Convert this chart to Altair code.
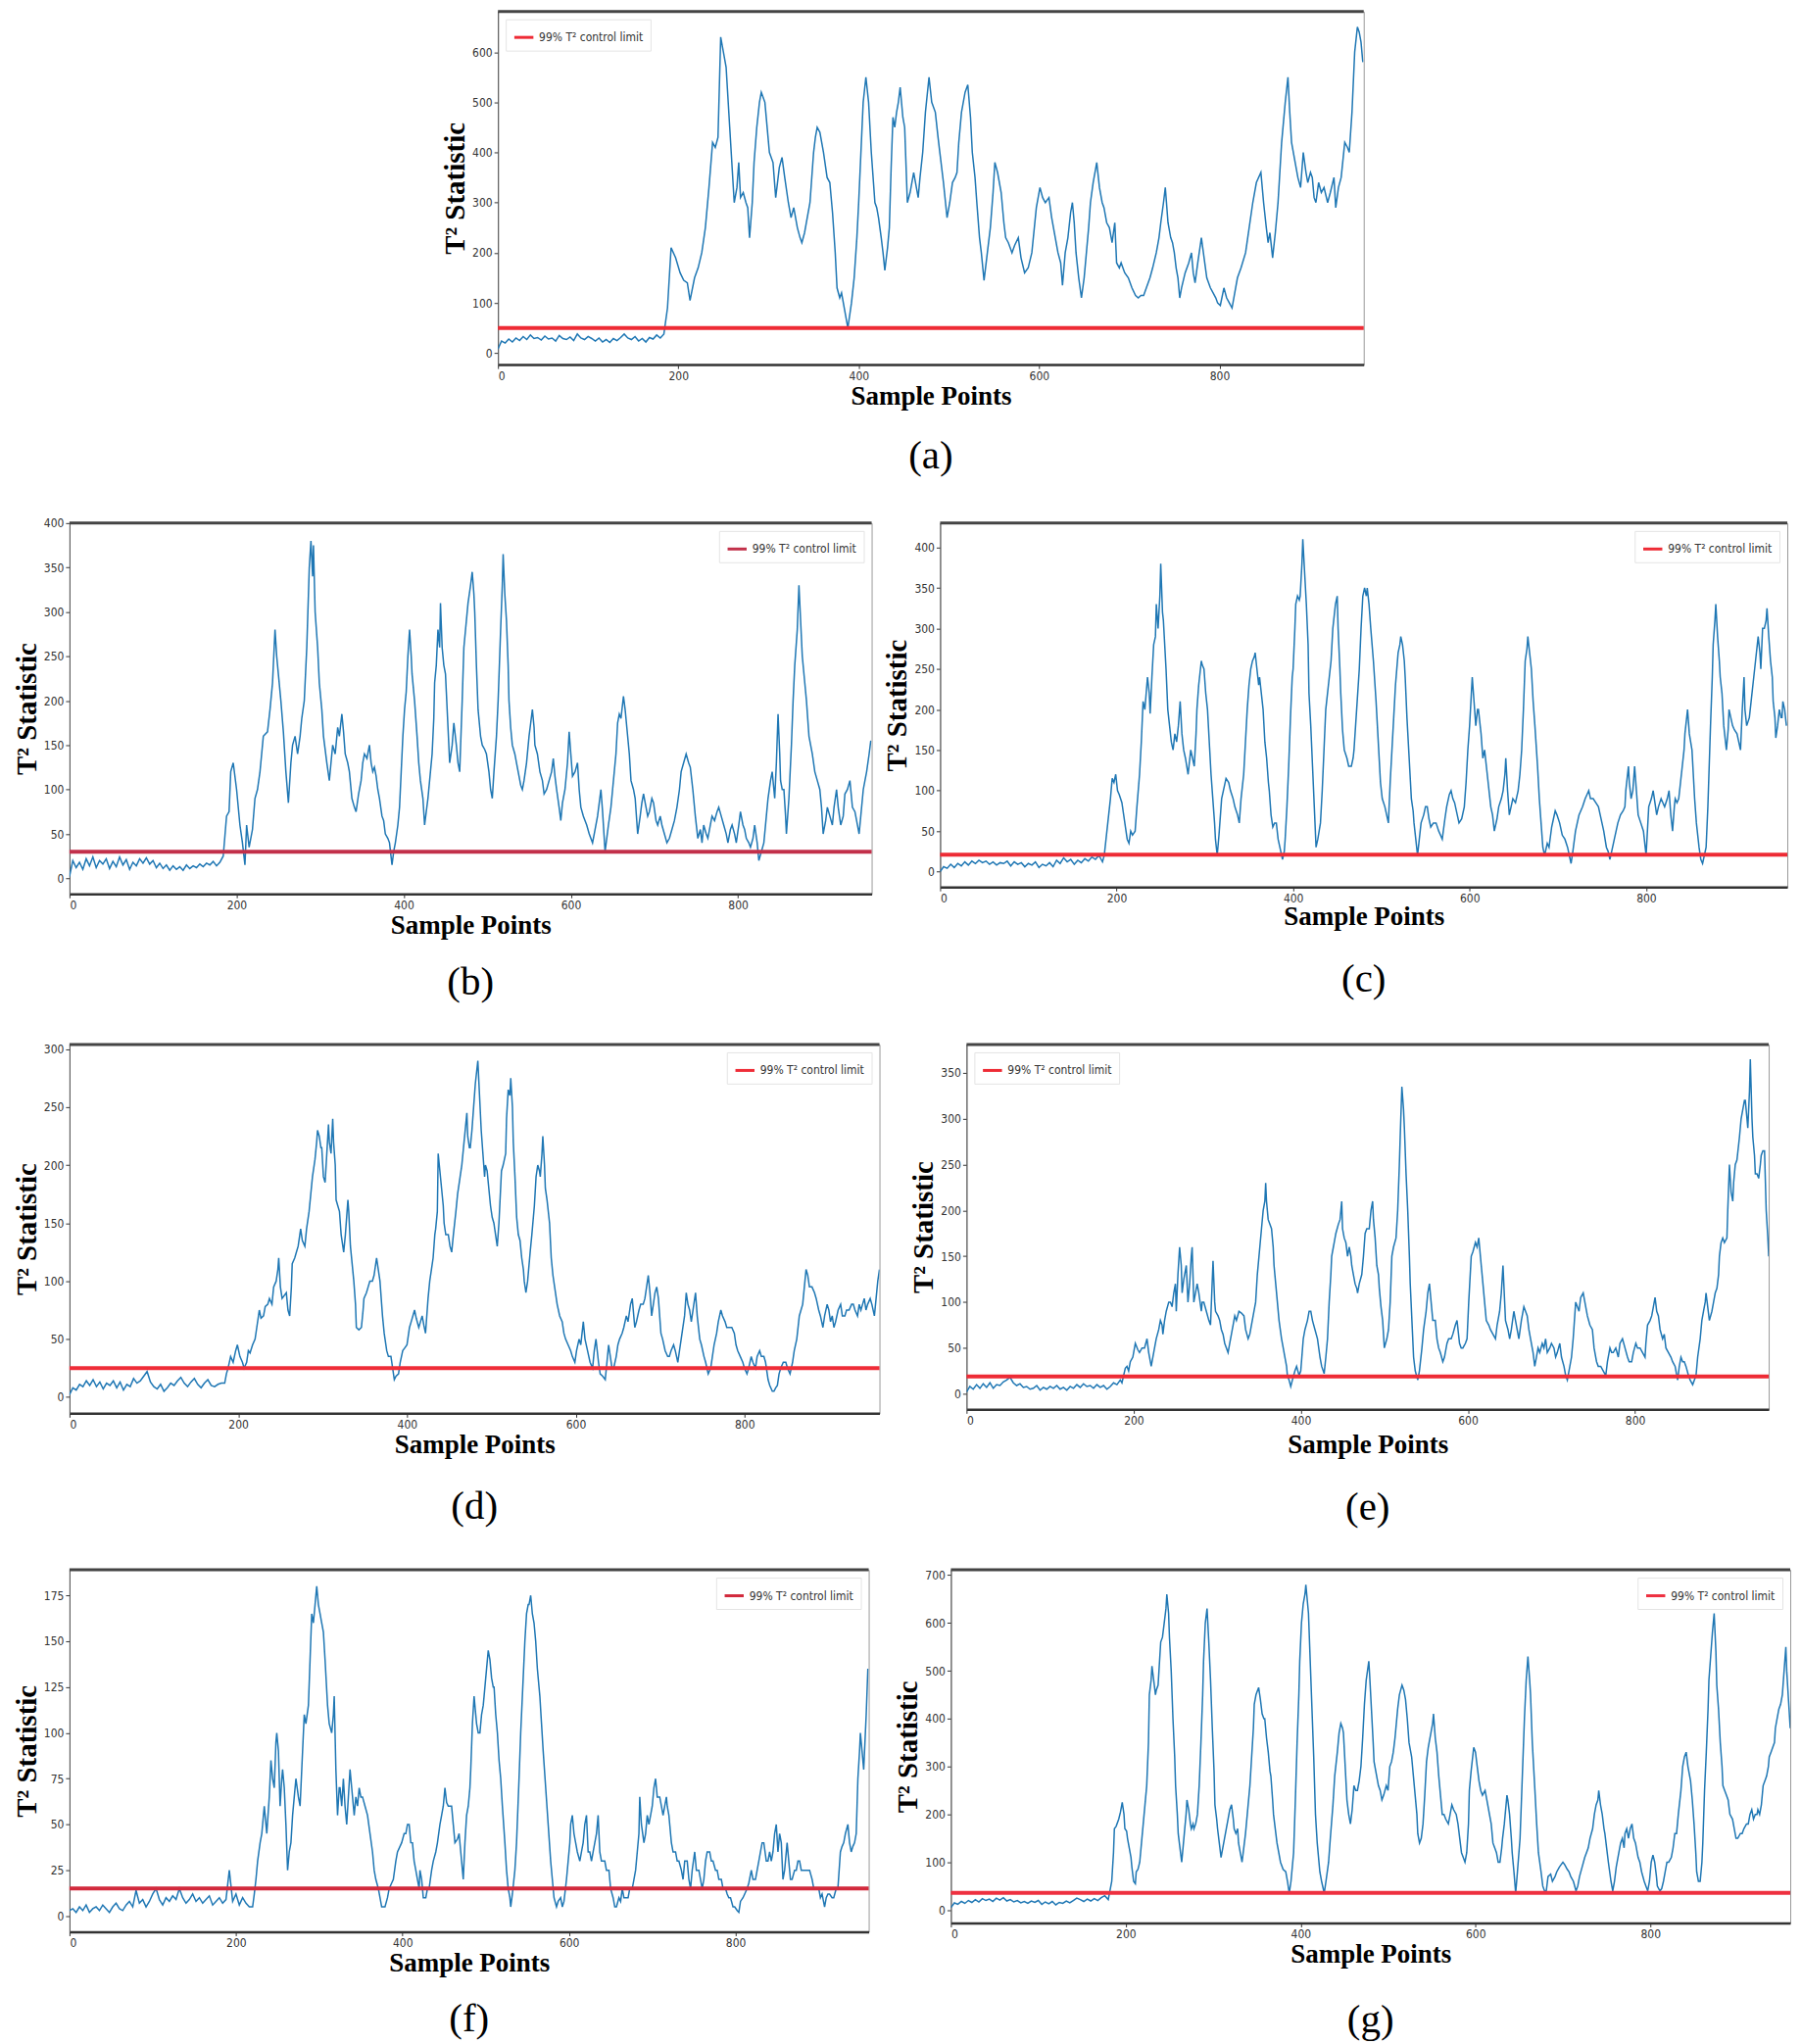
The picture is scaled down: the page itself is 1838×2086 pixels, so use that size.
import altair as alt
import pandas as pd

# ---------------- data ----------------
# pre-fault part: one value every 4 samples starting at sample 0
a_early = [8, 24, 20, 28, 22, 30, 25, 33, 27, 36, 29, 31, 26, 34, 28, 30, 24, 35, 29, 27, 32, 25, 38, 30, 27, 33, 29, 24, 30, 22, 27, 21, 29, 25, 31, 38, 30, 27, 33, 24, 29, 22, 31, 28, 36, 30]
a_fx = [184, 188, 192, 197, 202, 206, 210, 213, 218, 222, 226, 230, 234, 238, 241, 244, 247, 250, 253, 257, 262, 265, 267, 269, 272, 275, 277, 279, 282, 284, 287, 290, 292, 296, 301, 305, 308, 312, 315, 318, 322, 325, 328, 332, 335, 337, 340, 342, 346, 350, 352, 354, 357, 361, 365, 368, 371, 374, 376, 379, 381, 385, 388, 392, 395, 398, 400, 403, 405, 408, 411, 414, 418, 420, 422, 425, 427, 429, 432, 434, 436, 438, 440, 442, 444, 446, 449, 451, 454, 457, 461, 464, 466, 468, 471, 474, 478, 481, 485, 488, 490, 494, 498, 501, 504, 507, 509, 511, 514, 518, 521, 524, 526, 529, 531, 534, 536, 539, 542, 546, 549, 551, 554, 558, 561, 563, 566, 570, 573, 577, 580, 584, 588, 592, 597, 601, 604, 607, 611, 614, 618, 621, 624, 626, 629, 632, 635, 637, 639, 641, 644, 647, 650, 652, 655, 657, 660, 664, 667, 670, 672, 675, 678, 681, 684, 686, 689, 691, 695, 699, 703, 707, 710, 713, 716, 719, 723, 726, 730, 733, 735, 738, 740, 743, 746, 748, 750, 752, 754, 756, 758, 762, 766, 769, 771, 773, 776, 780, 783, 786, 790, 793, 796, 798, 801, 805, 808, 811, 814, 817, 820, 824, 829, 833, 837, 841, 846, 849, 852, 854, 856, 859, 862, 865, 869, 873, 876, 878, 880, 882, 884, 887, 890, 893, 896, 898, 901, 903, 905, 907, 910, 913, 916, 920, 923, 927, 929, 932, 935, 939, 942, 944, 947, 950, 953, 955, 957, 959]
a_fy = [38, 90, 210, 190, 160, 145, 140, 105, 150, 170, 200, 250, 330, 420, 410, 430, 630, 600, 570, 450, 300, 330, 380, 310, 320, 300, 290, 230, 300, 380, 450, 500, 520, 500, 400, 380, 310, 370, 390, 350, 300, 270, 290, 250, 230, 220, 240, 260, 300, 400, 430, 450, 440, 400, 350, 340, 280, 200, 130, 110, 120, 80, 50, 100, 150, 230, 300, 420, 500, 550, 500, 400, 300, 290, 270, 230, 200, 165, 210, 250, 370, 470, 450, 480, 500, 530, 470, 450, 300, 320, 360, 330, 310, 350, 400, 480, 550, 500, 480, 430, 400, 340, 270, 300, 340, 350, 360, 420, 480, 520, 535, 470, 400, 350, 300, 230, 200, 145, 190, 250, 320, 380, 360, 320, 260, 230, 220, 200, 215, 230, 190, 160, 170, 200, 290, 330, 310, 300, 310, 270, 230, 200, 180, 135, 200, 230, 280, 300, 260, 200, 150, 110, 150, 190, 250, 300, 340, 380, 330, 300, 290, 260, 250, 220, 260, 180, 170, 180, 160, 150, 130, 115, 110, 115, 115, 130, 150, 170, 200, 230, 260, 300, 330, 260, 230, 220, 200, 170, 150, 110, 130, 160, 180, 200, 160, 140, 180, 230, 190, 150, 130, 120, 110, 100, 95, 130, 110, 100, 90, 120, 150, 170, 200, 250, 300, 340, 360, 300, 250, 220, 240, 190, 240, 300, 420, 500, 550, 480, 420, 400, 380, 350, 330, 400, 360, 340, 360, 350, 310, 300, 340, 320, 330, 300, 320, 350, 290, 330, 350, 420, 410, 400, 480, 600, 650, 640, 620, 580]

b_early = [2, 20, 12, 18, 10, 22, 14, 24, 12, 20, 16, 22, 11, 19, 13, 24, 15, 21, 10, 18, 14, 22, 17, 23, 16, 20, 12, 17, 11, 15, 9, 14, 10, 13, 9, 15, 11, 14, 12, 16, 13, 17, 15, 19, 14, 18]
b_fx = [184, 188, 191, 193, 196, 200, 204, 207, 210, 212, 215, 219, 222, 225, 228, 232, 237, 240, 243, 246, 248, 250, 253, 256, 259, 262, 265, 267, 270, 273, 276, 278, 281, 284, 287, 289, 291, 292, 294, 297, 299, 302, 304, 308, 311, 313, 315, 318, 321, 323, 326, 328, 330, 333, 335, 338, 341, 343, 346, 349, 351, 353, 356, 359, 361, 363, 365, 367, 369, 371, 374, 376, 378, 381, 383, 386, 388, 390, 393, 395, 397, 399, 401, 403, 405, 407, 409, 410, 413, 416, 418, 420, 423, 425, 427, 429, 432, 434, 436, 437, 439, 441, 443, 444, 446, 448, 450, 451, 453, 455, 458, 460, 463, 465, 467, 470, 472, 475, 477, 480, 482, 484, 485, 487, 489, 492, 494, 497, 499, 502, 504, 506, 508, 511, 513, 516, 518, 519, 521, 523, 525, 526, 528, 530, 533, 535, 538, 540, 542, 544, 547, 550, 552, 554, 556, 557, 560, 563, 566, 568, 571, 574, 577, 579, 581, 583, 586, 588, 590, 593, 596, 598, 600, 602, 605, 608, 610, 612, 615, 619, 622, 626, 629, 632, 634, 636, 638, 641, 643, 645, 648, 650, 652, 654, 656, 658, 660, 663, 665, 667, 670, 672, 675, 677, 680, 683, 685, 687, 690, 692, 694, 697, 699, 702, 704, 707, 709, 712, 715, 718, 721, 724, 727, 730, 732, 735, 738, 741, 743, 746, 749, 752, 755, 757, 759, 762, 764, 767, 769, 772, 775, 777, 780, 783, 786, 788, 791, 793, 796, 798, 801, 803, 806, 808, 810, 813, 815, 818, 820, 823, 825, 828, 831, 834, 836, 839, 841, 843, 844, 846, 848, 850, 851, 853, 855, 857, 858, 861, 864, 866, 868, 871, 873, 875, 877, 880, 882, 885, 887, 889, 892, 895, 898, 900, 902, 905, 907, 910, 913, 915, 918, 920, 923, 926, 928, 931, 934, 936, 937, 940, 941, 943, 945, 947, 950, 952, 954, 957, 959]
b_fy = [25, 70, 75, 120, 130, 100, 60, 40, 15, 60, 35, 55, 90, 100, 120, 160, 165, 190, 220, 280, 250, 230, 200, 165, 120, 85, 130, 150, 160, 140, 160, 180, 200, 260, 350, 380, 340, 375, 300, 260, 220, 190, 160, 130, 110, 130, 150, 140, 170, 160, 185, 165, 140, 130, 120, 90, 80, 75, 95, 110, 130, 140, 135, 150, 130, 120, 125, 115, 100, 90, 70, 65, 50, 45, 40, 15, 30, 40, 60, 80, 120, 160, 190, 210, 250, 280, 250, 230, 200, 160, 130, 110, 90, 60, 75, 90, 120, 140, 180, 220, 240, 280, 260, 310, 260, 240, 230, 210, 170, 130, 150, 175, 150, 130, 120, 200, 260, 290, 310, 330, 345, 320, 300, 240, 190, 160, 150, 145, 140, 120, 100, 90, 120, 160, 200, 280, 330, 365, 320, 290, 240, 200, 170, 150, 140, 130, 115, 105, 100, 110, 130, 160, 175, 190, 170, 150, 140, 120, 110, 95, 100, 110, 120, 135, 115, 100, 80, 65, 85, 100, 130, 165, 140, 115, 120, 130, 100, 80, 70, 60, 50, 40, 55, 70, 85, 100, 75, 30, 45, 60, 80, 100, 120, 140, 175, 185, 180, 205, 190, 170, 140, 110, 100, 90, 50, 70, 85, 95, 80, 70, 75, 90, 85, 65, 60, 70, 60, 50, 40, 45, 55, 65, 80, 100, 120, 130, 140, 130, 125, 100, 70, 45, 55, 40, 60, 50, 45, 60, 70, 65, 75, 80, 70, 60, 50, 40, 55, 60, 50, 40, 60, 75, 60, 55, 45, 40, 35, 45, 60, 40, 20, 30, 40, 70, 90, 110, 120, 100, 90, 130, 185, 140, 110, 100, 100, 70, 50, 90, 150, 200, 240, 280, 330, 290, 250, 220, 200, 160, 150, 140, 120, 110, 100, 80, 50, 65, 80, 70, 60, 80, 100, 80, 60, 70, 95, 100, 110, 90, 80, 75, 70, 60, 50, 70, 100, 110, 120, 140, 155]

c_early = [0, 6, 4, 9, 5, 10, 7, 12, 8, 13, 10, 14, 11, 13, 9, 12, 8, 11, 10, 13, 7, 12, 9, 11, 6, 10, 8, 12, 5, 9, 7, 11, 6, 14, 10, 17, 12, 15, 9, 14, 11, 16, 13, 18, 15, 20]
c_fx = [184, 186, 188, 190, 193, 195, 197, 199, 201, 203, 206, 208, 210, 212, 214, 216, 218, 221, 223, 226, 228, 230, 232, 235, 237, 238, 240, 242, 244, 245, 247, 249, 250, 252, 253, 255, 256, 258, 260, 262, 264, 266, 268, 270, 272, 274, 276, 278, 281, 283, 284, 286, 288, 290, 291, 293, 296, 297, 299, 301, 303, 305, 307, 309, 311, 312, 314, 316, 319, 321, 324, 327, 329, 332, 334, 337, 339, 341, 344, 346, 348, 350, 352, 354, 356, 357, 359, 361, 362, 364, 366, 368, 370, 372, 373, 375, 377, 379, 381, 383, 385, 388, 390, 391, 393, 395, 397, 399, 400, 402, 403, 405, 407, 408, 410, 411, 413, 415, 417, 418, 420, 422, 424, 426, 428, 431, 433, 435, 437, 440, 441, 443, 445, 446, 448, 450, 451, 453, 454, 456, 458, 461, 463, 466, 468, 469, 472, 475, 477, 479, 481, 483, 484, 486, 488, 491, 494, 496, 499, 501, 504, 506, 508, 510, 512, 514, 516, 519, 521, 522, 524, 526, 527, 529, 531, 533, 534, 536, 537, 539, 541, 543, 545, 548, 550, 552, 554, 556, 559, 562, 565, 567, 569, 572, 574, 577, 579, 581, 583, 586, 588, 591, 594, 596, 598, 600, 603, 605, 607, 609, 610, 613, 615, 617, 619, 621, 624, 626, 628, 631, 633, 636, 638, 640, 641, 643, 645, 647, 649, 652, 655, 657, 659, 661, 663, 665, 666, 668, 670, 672, 674, 677, 679, 681, 683, 685, 688, 690, 693, 695, 697, 699, 702, 704, 705, 708, 711, 713, 715, 717, 720, 722, 724, 726, 728, 731, 733, 735, 737, 740, 743, 746, 748, 750, 752, 755, 757, 759, 761, 764, 766, 768, 771, 774, 776, 777, 780, 781, 783, 785, 787, 789, 791, 794, 797, 799, 800, 802, 803, 806, 808, 810, 812, 814, 817, 819, 821, 824, 826, 828, 830, 832, 833, 835, 837, 839, 841, 843, 844, 846, 847, 849, 852, 854, 855, 857, 860, 862, 864, 866, 868, 870, 873, 875, 876, 878, 879, 881, 883, 884, 886, 888, 891, 893, 894, 896, 898, 900, 903, 905, 907, 909, 911, 912, 914, 917, 919, 921, 924, 926, 927, 929, 930, 932, 934, 936, 937, 939, 941, 943, 944, 946, 947, 949, 951, 953, 954, 955, 957, 959]
c_fy = [12, 20, 40, 60, 90, 115, 110, 120, 100, 95, 85, 70, 55, 40, 35, 50, 45, 50, 80, 120, 160, 210, 200, 240, 220, 195, 240, 280, 290, 330, 300, 340, 380, 320, 310, 270, 250, 200, 180, 160, 150, 170, 160, 180, 210, 170, 150, 140, 120, 140, 150, 140, 130, 170, 200, 230, 260, 255, 250, 220, 200, 160, 120, 90, 60, 40, 20, 45, 90, 100, 115, 110, 100, 90, 80, 70, 60, 90, 120, 160, 200, 230, 250, 260, 265, 270, 250, 230, 240, 220, 200, 160, 140, 110, 100, 70, 55, 60, 60, 40, 30, 15, 25, 40, 80, 130, 190, 240, 250, 300, 330, 340, 335, 340, 380, 410, 370, 330, 280, 220, 180, 130, 80, 30, 40, 60, 100, 150, 200, 230, 240, 260, 300, 310, 330, 340, 300, 250, 220, 175, 150, 140, 130, 130, 140, 150, 200, 250, 300, 340, 350, 340, 350, 330, 300, 260, 210, 170, 110, 90, 80, 70, 60, 110, 150, 190, 230, 270, 280, 290, 280, 260, 240, 190, 150, 110, 90, 75, 60, 40, 20, 40, 60, 70, 80, 80, 65, 55, 60, 60, 50, 45, 40, 65, 80, 95, 100, 90, 85, 70, 60, 65, 80, 110, 150, 180, 240, 210, 180, 200, 200, 170, 140, 150, 130, 110, 80, 70, 50, 65, 80, 90, 100, 120, 140, 100, 70, 80, 90, 85, 100, 120, 150, 200, 260, 275, 290, 270, 250, 210, 180, 130, 90, 60, 30, 20, 35, 30, 55, 65, 75, 70, 60, 50, 45, 40, 30, 20, 10, 25, 50, 60, 70, 75, 80, 90, 95, 100, 90, 90, 85, 80, 70, 60, 50, 30, 25, 15, 25, 40, 50, 60, 70, 75, 80, 100, 130, 110, 90, 100, 130, 100, 70, 60, 50, 30, 20, 60, 80, 90, 100, 85, 70, 80, 90, 85, 80, 90, 100, 70, 50, 80, 90, 85, 90, 110, 130, 150, 170, 190, 200, 170, 150, 110, 90, 60, 30, 15, 10, 20, 30, 80, 180, 240, 280, 310, 330, 290, 260, 240, 220, 180, 150, 175, 200, 190, 180, 175, 170, 160, 150, 200, 240, 200, 180, 190, 210, 230, 260, 280, 290, 270, 250, 300, 300, 310, 325, 290, 260, 240, 210, 190, 165, 180, 200, 190, 190, 210, 200, 180]

d_early = [2, 8, 6, 11, 9, 14, 10, 15, 9, 13, 7, 12, 10, 14, 8, 13, 6, 11, 9, 16, 12, 14, 18, 22, 13, 9, 7, 11, 5, 8, 12, 10, 14, 17, 12, 9, 13, 16, 11, 8, 12, 15, 10, 9, 11, 12]
d_fx = [184, 186, 188, 191, 194, 197, 199, 202, 205, 207, 210, 212, 214, 217, 220, 222, 225, 227, 230, 232, 235, 237, 240, 242, 245, 247, 248, 250, 252, 255, 257, 259, 261, 263, 264, 267, 269, 271, 273, 274, 276, 279, 281, 284, 286, 288, 290, 291, 293, 294, 296, 298, 299, 301, 303, 305, 307, 308, 310, 312, 313, 315, 316, 318, 320, 322, 325, 327, 330, 331, 333, 335, 337, 339, 340, 343, 346, 348, 349, 352, 354, 356, 359, 361, 364, 366, 368, 370, 371, 373, 376, 378, 381, 383, 385, 387, 390, 392, 395, 397, 400, 401, 403, 405, 407, 409, 411, 414, 416, 418, 420, 422, 425, 427, 429, 431, 433, 434, 436, 437, 439, 441, 443, 444, 446, 449, 451, 453, 455, 458, 460, 462, 463, 465, 467, 469, 471, 472, 474, 475, 477, 479, 481, 484, 486, 488, 490, 492, 493, 495, 497, 499, 501, 503, 505, 507, 509, 512, 514, 517, 518, 520, 522, 523, 525, 526, 528, 530, 532, 534, 536, 538, 539, 541, 543, 546, 548, 551, 553, 555, 557, 558, 560, 561, 563, 564, 566, 569, 571, 573, 575, 578, 581, 584, 586, 588, 591, 594, 596, 599, 601, 604, 606, 609, 611, 614, 617, 620, 622, 624, 627, 629, 632, 635, 637, 639, 641, 643, 645, 648, 650, 652, 655, 657, 660, 662, 665, 667, 670, 672, 675, 677, 680, 682, 684, 686, 688, 690, 692, 694, 696, 698, 701, 703, 706, 709, 711, 713, 716, 718, 721, 723, 726, 729, 731, 733, 735, 737, 740, 742, 744, 747, 749, 752, 754, 757, 760, 762, 764, 767, 769, 772, 774, 777, 779, 782, 785, 788, 790, 792, 795, 798, 800, 803, 805, 808, 810, 813, 815, 818, 820, 823, 825, 828, 830, 833, 835, 837, 839, 841, 843, 846, 849, 851, 854, 857, 859, 862, 865, 867, 869, 871, 873, 875, 877, 880, 883, 885, 888, 890, 893, 895, 898, 900, 902, 904, 906, 908, 911, 914, 916, 919, 921, 924, 927, 929, 931, 934, 936, 938, 940, 942, 944, 946, 949, 951, 954, 956, 958, 960]
d_fy = [12, 20, 25, 35, 30, 40, 45, 35, 30, 25, 30, 40, 38, 45, 50, 60, 75, 68, 70, 78, 80, 85, 80, 95, 100, 110, 120, 95, 85, 88, 90, 75, 70, 95, 115, 120, 125, 130, 140, 145, 135, 130, 145, 160, 175, 190, 200, 205, 220, 230, 225, 215, 215, 190, 185, 210, 235, 220, 210, 240, 220, 200, 170, 165, 160, 140, 125, 140, 170, 160, 130, 115, 100, 80, 60, 58, 60, 75, 85, 90, 95, 100, 100, 105, 120, 110, 100, 80, 70, 55, 40, 35, 35, 25, 15, 18, 20, 30, 40, 42, 45, 50, 60, 65, 70, 75, 68, 60, 65, 70, 62, 55, 85, 100, 110, 120, 140, 145, 160, 210, 195, 180, 165, 150, 140, 140, 130, 125, 140, 160, 175, 185, 190, 200, 215, 230, 245, 225, 215, 215, 230, 250, 270, 290, 260, 230, 210, 190, 200, 195, 180, 165, 155, 150, 140, 130, 150, 195, 200, 210, 240, 265, 260, 275, 250, 220, 190, 155, 140, 135, 120, 110, 100, 90, 100, 125, 140, 165, 190, 200, 195, 190, 210, 225, 200, 180, 170, 150, 120, 105, 95, 80, 70, 65, 55, 50, 45, 40, 35, 30, 40, 50, 45, 65, 50, 40, 30, 25, 40, 50, 30, 20, 18, 15, 30, 45, 35, 25, 25, 35, 45, 50, 55, 60, 70, 65, 80, 85, 60, 65, 75, 80, 80, 85, 95, 105, 90, 70, 80, 90, 95, 85, 55, 50, 40, 35, 35, 40, 45, 40, 30, 40, 55, 70, 90, 80, 75, 65, 80, 90, 70, 50, 45, 35, 30, 20, 25, 35, 45, 55, 65, 75, 70, 65, 60, 60, 60, 55, 45, 40, 35, 30, 25, 20, 25, 35, 30, 25, 35, 40, 35, 35, 30, 15, 10, 5, 5, 8, 10, 20, 25, 30, 30, 25, 20, 30, 40, 50, 70, 75, 80, 95, 110, 105, 95, 95, 90, 85, 75, 70, 60, 70, 80, 75, 65, 70, 60, 65, 75, 80, 70, 70, 75, 75, 80, 80, 75, 70, 80, 75, 80, 85, 75, 80, 85, 80, 70, 85, 100, 110]

e_early = [2, 8, 5, 10, 6, 11, 7, 12, 6, 10, 9, 13, 15, 18, 12, 9, 11, 7, 8, 5, 6, 9, 4, 7, 5, 8, 6, 9, 5, 7, 4, 8, 6, 10, 7, 11, 8, 9, 6, 10, 7, 9, 5, 8, 12, 10]
e_fx = [184, 186, 188, 190, 192, 194, 196, 199, 201, 202, 205, 207, 210, 213, 216, 218, 221, 224, 227, 230, 232, 234, 235, 237, 239, 242, 244, 246, 248, 250, 251, 253, 255, 257, 258, 260, 263, 265, 267, 269, 270, 272, 274, 276, 278, 281, 282, 284, 287, 290, 292, 295, 297, 298, 301, 303, 305, 307, 309, 311, 313, 315, 317, 319, 321, 323, 326, 329, 332, 334, 337, 339, 340, 343, 346, 348, 350, 351, 353, 355, 357, 358, 359, 361, 363, 365, 367, 368, 370, 372, 374, 377, 379, 381, 383, 384, 386, 388, 390, 393, 395, 398, 400, 403, 405, 408, 410, 412, 414, 417, 420, 423, 425, 428, 430, 432, 434, 436, 437, 439, 440, 442, 445, 447, 449, 450, 452, 454, 456, 458, 460, 461, 463, 465, 467, 468, 470, 473, 475, 477, 479, 482, 484, 486, 487, 489, 491, 493, 494, 496, 498, 500, 503, 505, 507, 509, 511, 514, 516, 518, 519, 521, 523, 524, 526, 528, 530, 531, 533, 535, 537, 540, 542, 545, 547, 550, 552, 554, 556, 558, 561, 563, 565, 567, 570, 572, 575, 577, 580, 582, 585, 587, 590, 592, 594, 597, 599, 601, 604, 606, 609, 611, 613, 616, 618, 620, 622, 625, 627, 630, 633, 635, 638, 640, 642, 644, 645, 648, 650, 652, 655, 658, 661, 664, 667, 669, 671, 673, 675, 678, 680, 682, 684, 686, 689, 691, 693, 695, 698, 700, 703, 705, 707, 710, 712, 715, 717, 719, 721, 724, 726, 729, 731, 733, 735, 738, 740, 743, 746, 749, 751, 754, 756, 759, 762, 765, 767, 770, 772, 774, 777, 780, 782, 785, 788, 791, 793, 796, 798, 801, 803, 806, 809, 812, 813, 815, 818, 820, 822, 824, 826, 828, 830, 833, 835, 837, 840, 843, 845, 848, 849, 851, 853, 855, 857, 859, 861, 864, 866, 869, 871, 873, 875, 878, 880, 882, 884, 885, 887, 889, 892, 894, 896, 898, 900, 901, 903, 905, 907, 910, 911, 913, 915, 917, 918, 920, 922, 925, 927, 929, 931, 932, 934, 935, 937, 938, 940, 941, 943, 944, 946, 948, 950, 951, 953, 955, 957, 959, 960]
e_fy = [15, 12, 20, 28, 30, 25, 35, 40, 50, 55, 48, 45, 50, 50, 60, 45, 30, 45, 60, 70, 80, 75, 65, 80, 90, 100, 100, 95, 110, 120, 90, 130, 160, 140, 110, 125, 140, 100, 120, 150, 160, 100, 110, 120, 110, 90, 100, 100, 90, 80, 75, 145, 100, 90, 85, 80, 70, 65, 55, 50, 45, 55, 65, 75, 85, 80, 90, 88, 85, 70, 60, 65, 70, 85, 100, 130, 150, 160, 180, 200, 210, 230, 210, 190, 185, 180, 160, 140, 120, 100, 80, 60, 50, 40, 30, 20, 15, 8, 15, 25, 30, 20, 25, 60, 70, 80, 90, 90, 80, 70, 60, 40, 30, 22, 40, 60, 100, 130, 150, 160, 165, 175, 185, 190, 210, 180, 170, 165, 150, 160, 150, 140, 130, 120, 115, 110, 120, 130, 150, 175, 180, 180, 200, 210, 190, 170, 140, 130, 115, 95, 80, 50, 60, 70, 100, 150, 160, 170, 200, 250, 280, 335, 310, 290, 240, 200, 150, 120, 80, 40, 25, 15, 25, 50, 70, 90, 110, 120, 100, 80, 80, 60, 50, 45, 35, 40, 55, 60, 60, 65, 75, 80, 55, 50, 50, 55, 60, 100, 150, 155, 165, 160, 170, 140, 120, 100, 80, 75, 70, 65, 60, 75, 90, 110, 140, 100, 80, 70, 60, 70, 90, 75, 60, 80, 95, 90, 85, 70, 60, 45, 30, 40, 50, 45, 55, 50, 60, 45, 50, 55, 50, 40, 45, 55, 40, 30, 20, 15, 25, 40, 60, 100, 95, 90, 105, 110, 100, 85, 75, 70, 50, 35, 30, 30, 25, 20, 35, 50, 45, 45, 50, 40, 55, 60, 50, 40, 35, 35, 45, 55, 50, 50, 45, 40, 55, 75, 80, 85, 95, 105, 90, 85, 70, 60, 65, 50, 45, 40, 35, 30, 25, 15, 30, 40, 35, 35, 30, 20, 15, 10, 15, 20, 40, 60, 80, 90, 100, 110, 95, 80, 90, 100, 110, 115, 130, 150, 165, 170, 165, 170, 200, 250, 220, 210, 230, 250, 255, 280, 300, 310, 320, 320, 300, 290, 330, 365, 300, 280, 260, 240, 240, 235, 250, 260, 265, 265, 200, 170, 150]

f_early = [3, 4, 2, 5, 3, 6, 2, 4, 5, 3, 6, 4, 2, 5, 7, 4, 3, 6, 8, 5, 14, 7, 9, 5, 8, 12, 15, 9, 6, 10, 8, 11, 9, 15, 10, 7, 9, 12, 8, 10, 7, 9, 11, 6, 8, 10, 7, 9, 25, 8, 12, 6, 10, 7, 5]
f_fx = [220, 222, 224, 226, 229, 231, 234, 236, 237, 240, 242, 244, 246, 248, 249, 251, 253, 255, 256, 258, 260, 262, 264, 266, 268, 270, 272, 275, 277, 279, 282, 284, 287, 289, 291, 293, 295, 297, 299, 301, 303, 305, 307, 310, 312, 315, 317, 318, 320, 322, 324, 325, 327, 329, 331, 333, 335, 337, 339, 342, 344, 346, 348, 350, 352, 355, 358, 361, 364, 366, 368, 371, 373, 375, 377, 379, 382, 384, 387, 389, 392, 394, 397, 399, 402, 404, 406, 408, 410, 412, 414, 416, 418, 420, 421, 423, 425, 428, 430, 432, 435, 437, 440, 442, 445, 447, 449, 451, 453, 455, 457, 459, 461, 463, 466, 468, 470, 473, 475, 477, 479, 481, 482, 484, 486, 488, 489, 491, 493, 495, 497, 498, 500, 502, 503, 505, 507, 509, 510, 512, 514, 516, 518, 520, 523, 525, 527, 529, 530, 532, 535, 537, 540, 542, 545, 547, 549, 551, 552, 554, 556, 558, 560, 562, 565, 567, 569, 572, 575, 578, 580, 582, 585, 587, 590, 592, 594, 597, 599, 601, 602, 604, 606, 608, 610, 613, 615, 617, 619, 621, 623, 625, 627, 629, 631, 633, 635, 637, 639, 641, 643, 645, 648, 650, 653, 655, 657, 660, 662, 664, 666, 668, 671, 673, 676, 678, 680, 682, 684, 685, 687, 690, 692, 694, 696, 698, 700, 702, 704, 706, 709, 711, 713, 715, 717, 718, 720, 723, 725, 728, 730, 732, 735, 737, 739, 742, 744, 746, 748, 751, 753, 756, 758, 760, 762, 764, 766, 769, 771, 773, 776, 778, 780, 783, 785, 788, 790, 792, 794, 797, 799, 802, 804, 806, 809, 811, 814, 816, 819, 821, 824, 826, 828, 830, 832, 834, 837, 839, 841, 843, 845, 847, 849, 851, 853, 855, 857, 859, 862, 864, 866, 868, 871, 873, 875, 877, 879, 882, 884, 886, 889, 892, 894, 897, 900, 902, 904, 907, 909, 911, 913, 916, 918, 921, 923, 926, 928, 930, 932, 935, 937, 939, 941, 943, 945, 947, 949, 950, 952, 954, 955, 957, 959]
f_fy = [5, 12, 20, 30, 40, 45, 60, 50, 45, 65, 85, 75, 70, 95, 100, 90, 60, 75, 80, 70, 50, 25, 35, 40, 55, 65, 75, 65, 60, 80, 110, 105, 115, 140, 165, 160, 170, 180, 170, 165, 160, 155, 140, 115, 105, 100, 110, 120, 80, 55, 70, 70, 60, 75, 60, 50, 65, 80, 70, 55, 65, 60, 70, 65, 65, 60, 55, 45, 35, 25, 20, 15, 10, 5, 5, 5, 10, 15, 18, 20, 30, 35, 38, 40, 45, 45, 50, 50, 40, 40, 30, 25, 20, 15, 25, 20, 10, 10, 15, 15, 25, 30, 35, 40, 50, 55, 60, 70, 62, 60, 60, 60, 50, 40, 42, 45, 35, 20, 40, 55, 60, 70, 80, 105, 120, 110, 105, 100, 100, 110, 115, 120, 130, 140, 145, 140, 130, 125, 125, 110, 100, 85, 75, 60, 40, 25, 15, 10, 5, 12, 25, 40, 75, 100, 130, 150, 165, 170, 170, 175, 165, 160, 150, 135, 120, 105, 90, 70, 50, 30, 20, 10, 5, 8, 10, 5, 8, 20, 30, 40, 50, 55, 45, 40, 35, 30, 35, 40, 50, 55, 35, 35, 30, 35, 40, 45, 55, 35, 30, 30, 30, 25, 25, 15, 10, 5, 5, 10, 8, 15, 10, 10, 10, 15, 15, 20, 25, 35, 45, 65, 50, 40, 45, 55, 50, 55, 60, 70, 75, 65, 65, 60, 55, 60, 65, 60, 55, 40, 35, 35, 30, 30, 25, 20, 30, 30, 20, 15, 25, 35, 25, 25, 20, 15, 20, 30, 35, 35, 30, 30, 25, 25, 20, 20, 15, 15, 12, 10, 10, 5, 5, 3, 2, 8, 10, 12, 15, 18, 25, 20, 20, 25, 30, 35, 40, 40, 30, 30, 35, 30, 35, 45, 50, 35, 45, 40, 20, 25, 40, 30, 20, 20, 25, 25, 30, 30, 25, 25, 25, 25, 25, 20, 15, 15, 15, 10, 12, 5, 10, 12, 12, 10, 10, 15, 15, 35, 38, 40, 45, 50, 40, 35, 38, 40, 45, 75, 90, 100, 90, 80, 90, 110, 135]

g_early = [5, 15, 12, 18, 14, 20, 16, 22, 17, 24, 20, 23, 18, 25, 21, 26, 19, 22, 17, 20, 15, 18, 14, 19, 16, 20, 12, 17, 13, 18, 11, 16, 14, 19, 15, 20, 25, 22, 18, 23, 19, 24, 20, 26, 30, 22]
g_fx = [184, 186, 187, 189, 192, 194, 196, 198, 199, 201, 202, 204, 206, 207, 209, 211, 212, 214, 216, 218, 220, 222, 224, 226, 227, 229, 230, 232, 234, 235, 237, 238, 240, 242, 244, 246, 247, 249, 250, 252, 254, 256, 257, 259, 260, 262, 264, 266, 267, 269, 270, 272, 274, 275, 277, 278, 280, 282, 284, 286, 288, 289, 291, 293, 295, 297, 299, 301, 302, 304, 305, 307, 309, 311, 313, 315, 317, 319, 321, 323, 324, 326, 328, 329, 331, 333, 335, 337, 339, 342, 344, 346, 347, 349, 352, 354, 356, 358, 359, 361, 363, 365, 366, 368, 369, 371, 373, 375, 377, 380, 383, 385, 387, 389, 392, 394, 396, 398, 399, 401, 403, 405, 406, 408, 409, 411, 413, 415, 417, 419, 422, 424, 427, 429, 432, 434, 437, 439, 442, 443, 444, 446, 448, 449, 451, 453, 455, 457, 459, 461, 463, 465, 467, 469, 471, 473, 475, 478, 479, 481, 483, 484, 487, 489, 491, 493, 495, 498, 500, 502, 504, 506, 508, 511, 513, 516, 518, 520, 522, 524, 527, 529, 531, 533, 534, 536, 538, 540, 542, 544, 546, 549, 551, 552, 554, 556, 558, 560, 562, 564, 566, 569, 571, 573, 575, 578, 580, 582, 584, 586, 588, 590, 592, 593, 595, 598, 600, 602, 604, 606, 608, 611, 613, 616, 618, 620, 622, 624, 626, 628, 630, 631, 633, 636, 637, 639, 641, 642, 644, 646, 648, 651, 653, 655, 656, 658, 660, 662, 663, 665, 668, 670, 672, 675, 677, 679, 681, 683, 686, 688, 691, 693, 696, 698, 700, 702, 705, 707, 709, 712, 715, 717, 719, 722, 725, 727, 729, 731, 734, 736, 738, 740, 741, 743, 745, 747, 748, 750, 752, 755, 757, 759, 761, 764, 766, 768, 770, 771, 773, 775, 777, 779, 781, 783, 786, 788, 790, 793, 795, 797, 799, 801, 803, 805, 807, 808, 811, 813, 815, 817, 819, 821, 824, 826, 828, 830, 832, 835, 837, 839, 841, 843, 846, 848, 850, 852, 853, 855, 857, 859, 860, 862, 864, 866, 867, 869, 871, 873, 875, 876, 878, 880, 882, 883, 885, 887, 889, 891, 894, 896, 898, 900, 903, 905, 907, 910, 912, 914, 916, 918, 920, 922, 923, 925, 927, 929, 931, 933, 935, 936, 938, 940, 942, 943, 945, 947, 949, 951, 953, 955, 956, 958, 960]
g_fy = [60, 120, 170, 175, 190, 205, 225, 200, 170, 165, 150, 130, 110, 90, 60, 55, 80, 85, 100, 140, 180, 220, 260, 350, 450, 480, 510, 480, 450, 460, 470, 500, 560, 570, 600, 630, 660, 620, 570, 500, 400, 320, 260, 200, 160, 130, 100, 140, 160, 200, 230, 210, 180, 170, 180, 170, 180, 200, 260, 350, 450, 520, 600, 630, 560, 480, 380, 290, 220, 190, 170, 140, 110, 130, 150, 170, 190, 210, 220, 190, 170, 160, 170, 140, 120, 100, 130, 160, 200, 260, 320, 380, 430, 450, 465, 440, 410, 400, 400, 360, 330, 290, 280, 230, 200, 170, 140, 120, 100, 85, 80, 60, 35, 60, 120, 230, 350, 450, 520, 600, 640, 660, 680, 640, 620, 520, 420, 320, 200, 140, 80, 60, 35, 60, 100, 150, 220, 280, 330, 350, 370, 390, 380, 370, 300, 230, 200, 180, 210, 260, 250, 250, 270, 300, 360, 430, 480, 520, 490, 420, 350, 310, 280, 260, 250, 230, 240, 260, 250, 300, 310, 330, 360, 420, 450, 470, 460, 440, 400, 350, 320, 280, 240, 200, 160, 140, 150, 180, 240, 310, 340, 370, 390, 410, 360, 330, 280, 240, 200, 200, 190, 180, 200, 220, 210, 200, 180, 150, 120, 110, 100, 120, 180, 250, 290, 340, 330, 300, 270, 250, 240, 250, 230, 200, 180, 140, 130, 120, 100, 100, 130, 150, 180, 240, 230, 200, 150, 120, 80, 35, 80, 150, 250, 350, 400, 480, 530, 480, 450, 350, 250, 180, 120, 80, 50, 40, 40, 70, 75, 60, 70, 80, 90, 95, 100, 95, 85, 80, 70, 60, 40, 50, 70, 90, 110, 120, 130, 150, 170, 200, 220, 230, 250, 220, 200, 170, 160, 130, 100, 60, 40, 60, 90, 120, 140, 150, 130, 160, 170, 150, 170, 180, 150, 140, 110, 100, 80, 60, 50, 40, 60, 100, 115, 100, 70, 50, 40, 45, 60, 80, 100, 100, 110, 130, 160, 160, 200, 250, 300, 320, 330, 300, 270, 230, 180, 120, 80, 60, 60, 100, 140, 250, 330, 420, 480, 530, 580, 620, 540, 470, 420, 350, 300, 260, 250, 240, 230, 200, 190, 170, 150, 150, 160, 160, 170, 180, 180, 200, 210, 190, 200, 200, 210, 200, 220, 260, 270, 280, 300, 320, 330, 340, 350, 380, 400, 420, 430, 450, 500, 550, 500, 440, 380]

limits = {"a": 50, "b": 30, "c": 21, "d": 25, "e": 19, "f": 15, "g": 36}
y_domains = {"a": [-23, 681], "b": [-17.5, 400], "c": [-19, 430], "d": [-14, 304],
             "e": [-17, 381], "f": [-8.6, 189], "g": [-27, 711]}
y_ticks = {"a": [0, 100, 200, 300, 400, 500, 600], "b": [0, 50, 100, 150, 200, 250, 300, 350, 400],
           "c": [0, 50, 100, 150, 200, 250, 300, 350, 400], "d": [0, 50, 100, 150, 200, 250, 300],
           "e": [0, 50, 100, 150, 200, 250, 300, 350], "f": [0, 25, 50, 75, 100, 125, 150, 175],
           "g": [0, 100, 200, 300, 400, 500, 600, 700]}
x_ticks = [0, 200, 400, 600, 800]
legend_label = "99% T² control limit"

NARROW = "Liberation Sans Narrow, DejaVu Sans Condensed, Arial Narrow, sans-serif"
SERIF = "Liberation Serif, Times New Roman, serif"


def panel(key, early, fx, fy, w, h, legend_orient, limit_color, swatch_color, cap_offset, xtitle_pad=2):
    xs = list(range(0, 4 * len(early), 4)) + fx
    ys = early + fy
    df = pd.DataFrame({"x": xs, "y": ys})
    xenc = alt.X("x:Q", scale=alt.Scale(domain=[0, 960], nice=False, zero=False),
                 axis=alt.Axis(values=x_ticks, title="Sample Points", titlePadding=xtitle_pad,
                               titleFontSize=27, domainWidth=2.5, domainColor="#333"))
    yscale = alt.Scale(domain=y_domains[key], nice=False, zero=False)
    line = alt.Chart(df).mark_line(color="#1f77b4", strokeWidth=1.5, clip=True).encode(
        x=xenc,
        y=alt.Y("y:Q", scale=yscale,
                axis=alt.Axis(values=y_ticks[key], title="T² Statistic", titlePadding=2,
                              titleFontSize=29)),
    )
    lim_df = pd.DataFrame({"y": [limits[key]], "k": [legend_label]})
    lim = alt.Chart(lim_df).mark_rule(strokeWidth=4).encode(
        y=alt.Y("y:Q", scale=yscale),
        color=alt.Color("k:N", scale=alt.Scale(domain=[legend_label], range=[limit_color]),
                        legend=alt.Legend(orient=legend_orient, title=None, symbolType="stroke",
                                          symbolStrokeWidth=3, symbolSize=380,
                                          symbolStrokeColor=swatch_color,
                                          labelFont=NARROW, labelFontSize=12, labelColor="#333",
                                          strokeColor="#e4e4e4", fillColor="white",
                                          padding=7, offset=8)),
    )
    top = alt.Chart(pd.DataFrame({"t": [0]})).mark_rule(color="#444", strokeWidth=3).encode(
        y=alt.value(0))
    return alt.layer(line, lim, top).properties(
        width=w, height=h,
        title=alt.TitleParams(f"({key})", orient="bottom", font=SERIF, fontSize=41,
                              fontWeight="normal", color="black", offset=cap_offset, anchor="middle"),
    )


def indep(c):
    return c.resolve_scale(color="independent").resolve_legend(color="independent")


pa = panel("a", a_early, a_fx, a_fy, 885, 361, "top-left", "#ee2b35", "#e8495a", 29)
pb = panel("b", b_early, b_fx, b_fy, 820, 379, "top-right", "#c2304a", "#b03448", 26)
pc = panel("c", c_early, c_fx, c_fy, 866, 372, "top-right", "#ee2b35", "#d0303f", 32, 0)
pd_ = panel("d", d_early, d_fx, d_fy, 828, 377, "top-right", "#ef2d38", "#ef2d38", 31)
pe = panel("e", e_early, e_fx, e_fy, 820, 373, "top-left", "#ee2b35", "#a52a3c", 32, 6)
pf = panel("f", f_early, f_fx, f_fy, 817, 370, "top-right", "#d22a3c", "#d22a3c", 25)
pg = panel("g", g_early, g_fx, g_fy, 858, 361, "top-right", "#ee3040", "#e83040", 35)

spacer = alt.Chart(pd.DataFrame({"v": [0]})).mark_point(opacity=0).encode(
    x=alt.X("v:Q", axis=None), y=alt.Y("v:Q", axis=None)
).properties(width=378, height=10, view=alt.ViewBackground(stroke="transparent"))

row1 = indep(alt.hconcat(spacer, pa, spacing=0))
row2 = indep(alt.hconcat(pb, pc, spacing=8))
row3 = indep(alt.hconcat(pd_, pe, spacing=27))
row4 = indep(alt.hconcat(pf, pg, spacing=22))

chart = indep(alt.vconcat(row1, row2, row3, row4, spacing=40)).properties(
    padding={"left": 4, "top": 0, "right": 0, "bottom": 0}, background="white"
).configure_view(stroke="#9a9a9a", strokeWidth=1).configure_axis(
    grid=False, labelFont=NARROW, labelFontSize=12, labelColor="#333", labelPadding=2,
    tickSize=4, tickColor="#333", domainColor="#555", labelAngle=0,
    titleFont=SERIF, titleFontWeight="bold", titleColor="black",
)

chart.save("out.html", embed_options={"renderer": "svg", "actions": False})
